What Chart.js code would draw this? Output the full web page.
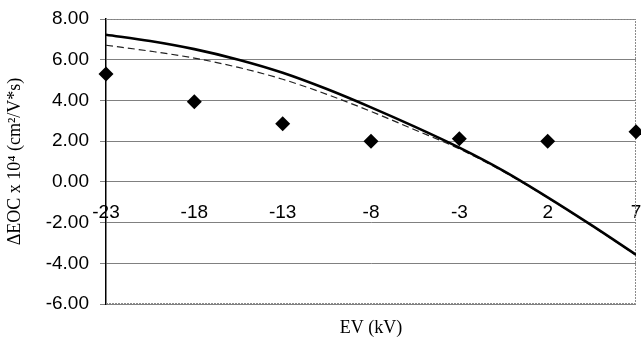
<!DOCTYPE html>
<html>
<head>
<meta charset="utf-8">
<script src="https://cdn.jsdelivr.net/npm/chart.js@4.4.1/dist/chart.umd.min.js"></script>
<style>
  html, body { margin: 0; padding: 0; background: #fff; }
  #wrap { width: 641px; height: 345px; }
</style>
</head>
<body>
<div id="wrap"><canvas id="myChart" width="641" height="345"></canvas></div>
<script>
// values
var evTicks = [-23, -18, -13, -8, -3, 2, 7];
var measured = [5.30, 3.93, 2.85, 2.00, 2.12, 2.00, 2.46];
var curveX = [-23, -20.5, -18, -15.5, -13, -10.5, -8, -5.5, -3, -0.5, 2, 4.5, 7];
var modelSolid = [7.23, 6.92, 6.52, 6.00, 5.36, 4.56, 3.66, 2.70, 1.68, 0.54, -0.76, -2.14, -3.58];
var modelDashed = [6.71, 6.42, 6.08, 5.62, 5.04, 4.30, 3.46, 2.55, 1.62, 0.50, -0.78, -2.16, -3.60];
var yTicks = [-6, -4, -2, 0, 2, 4, 6, 8];

function pts(xs, ys) {
    return xs.map(function(x, i) { return { x: x, y: ys[i] }; });
}

function noSidePad(scale) {
    scale.paddingLeft = 0;
    scale.paddingRight = 0;
}

// dotted frame on top/right/bottom like the original plot area
var frame = {
    id: 'frame',
    beforeDatasetsDraw: function(chart) {
        var a = chart.chartArea, c = chart.ctx;
        c.save();
        c.strokeStyle = '#8c8c8c';
        c.lineWidth = 1;
        c.setLineDash([2, 1]);
        c.beginPath();
        c.moveTo(a.left, a.top + 0.5);
        c.lineTo(a.right - 0.5, a.top + 0.5);
        c.lineTo(a.right - 0.5, a.bottom - 0.5);
        c.lineTo(a.left, a.bottom - 0.5);
        c.stroke();
        c.restore();
    }
};

var ctx = document.getElementById('myChart').getContext('2d');
var myChart = new Chart(ctx, {
    type: 'scatter',
    data: {
        datasets: [{
            label: 'model',
            data: pts(curveX, modelSolid),
            showLine: true,
            borderColor: '#000',
            borderWidth: 2.6,
            pointRadius: 0,
            cubicInterpolationMode: 'monotone',
            order: 2
        }, {
            label: 'model 2',
            data: pts(curveX, modelDashed),
            showLine: true,
            borderColor: '#222',
            borderWidth: 1.2,
            borderDash: [7, 4],
            pointRadius: 0,
            cubicInterpolationMode: 'monotone',
            order: 3
        }, {
            label: 'measured',
            data: pts(evTicks, measured),
            pointStyle: 'rectRot',
            pointRadius: 7.5,
            backgroundColor: '#000',
            borderColor: '#000',
            borderWidth: 0,
            clip: 20,
            order: 1
        }]
    },
    options: {
        responsive: false,
        animation: false,
        layout: { autoPadding: false, padding: { top: 19, right: 5, left: 0, bottom: 0 } },
        plugins: {
            legend: { display: false },
            tooltip: { enabled: false }
        },
        scales: {
            x: {
                type: 'linear',
                position: { y: 0 },
                min: -23,
                max: 7,
                afterBuildTicks: function(scale) {
                    scale.ticks = evTicks.map(function(v) { return { value: v }; });
                },
                afterFit: noSidePad,
                grid: { display: false, drawTicks: false },
                border: { color: '#808080', width: 1 },
                ticks: {
                    padding: 20,
                    color: '#000',
                    font: { family: 'Liberation Sans', size: 19 }
                }
            },
            x2: {
                type: 'linear',
                position: 'bottom',
                min: -23,
                max: 7,
                grid: { display: false, drawTicks: false },
                border: { display: false },
                ticks: { display: false },
                title: {
                    display: true,
                    text: 'EV (kV)',
                    color: '#000',
                    font: { family: 'Liberation Serif', size: 18 },
                    padding: { top: 0, bottom: 6 }
                },
                afterFit: function(scale) { scale.height = 41; noSidePad(scale); }
            },
            y: {
                min: -6,
                max: 8,
                afterBuildTicks: function(scale) {
                    scale.ticks = yTicks.map(function(v) { return { value: v }; });
                },
                grid: { color: '#808080', lineWidth: 1, tickLength: 6 },
                border: { color: '#000', width: 1.5 },
                ticks: {
                    padding: 11,
                    color: '#000',
                    font: { family: 'Liberation Sans', size: 19 },
                    callback: function(v) { return Number(v).toFixed(2); }
                },
                title: {
                    display: true,
                    text: 'ΔEOC x 10⁴ (cm²/V*s)',
                    color: '#000',
                    font: { family: 'Liberation Serif', size: 18 },
                    padding: { top: 4, bottom: 0 }
                },
                afterFit: function(scale) {
                    scale.width = 106;
                    scale.paddingTop = 0;
                    scale.paddingBottom = 0;
                }
            }
        }
    },
    plugins: [frame]
});
</script>
</body>
</html>
